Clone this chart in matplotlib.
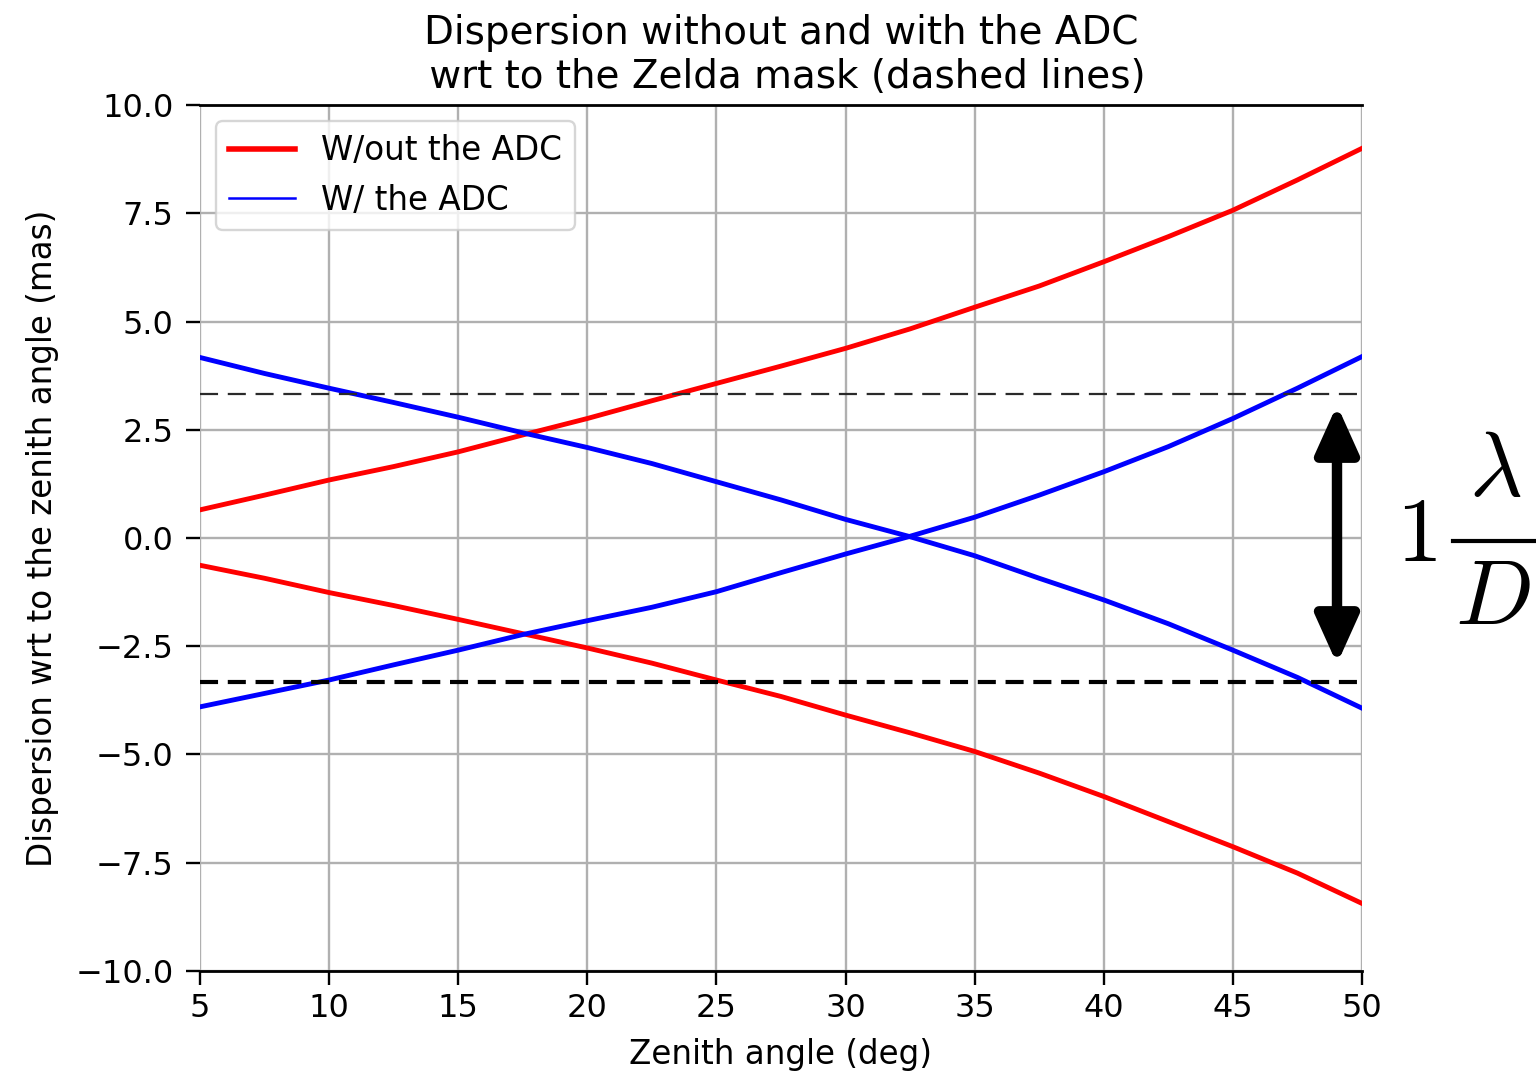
import matplotlib
matplotlib.use("Agg")
import matplotlib.pyplot as plt
from matplotlib.patches import FancyArrowPatch
from matplotlib.lines import Line2D
from matplotlib.ticker import FuncFormatter

# zenith angles (deg)
zenith = [5, 7.5, 10, 12.5, 15, 17.5, 20, 22.5, 25, 27.5,
          30, 32.5, 35, 37.5, 40, 42.5, 45, 47.5, 50]

# dispersion without the ADC, both wavelength edges (mas)
no_adc_up = [0.65, 0.99, 1.34, 1.65, 1.99, 2.38, 2.76, 3.17, 3.57, 3.97,
             4.38, 4.83, 5.33, 5.82, 6.38, 6.96, 7.57, 8.27, 9.00]
no_adc_low = [-0.63, -0.93, -1.26, -1.56, -1.88, -2.21, -2.54, -2.89, -3.28, -3.66,
              -4.09, -4.50, -4.93, -5.43, -5.97, -6.55, -7.13, -7.74, -8.44]

# dispersion with the ADC (mas)
adc_a = [4.17, 3.80, 3.46, 3.13, 2.79, 2.43, 2.09, 1.72, 1.30, 0.88,
         0.43, 0.03, -0.41, -0.93, -1.43, -1.98, -2.59, -3.22, -3.93]
adc_b = [-3.90, -3.59, -3.28, -2.93, -2.59, -2.23, -1.91, -1.60, -1.24, -0.80,
         -0.37, 0.04, 0.48, 0.99, 1.53, 2.11, 2.76, 3.46, 4.19]

# Zelda mask limits (mas)
zelda_up = 3.33
zelda_low = -3.33

plt.rcParams["lines.scale_dashes"] = False
plt.rcParams["mathtext.fontset"] = "cm"

fig = plt.figure(figsize=(15.36, 10.73), dpi=100)
ax = fig.add_axes([0.1302, 0.0951, 0.7565, 0.8070])

fs = 23.5
ax.plot(zenith, no_adc_up, color="red", lw=3.5, label="W/out the ADC")
ax.plot(zenith, no_adc_low, color="red", lw=3.5)
ax.plot(zenith, adc_a, color="blue", lw=3.5, label="W/ the ADC")
ax.plot(zenith, adc_b, color="blue", lw=3.5)

ax.axhline(zelda_up, color="#2a2a2a", lw=1.6, dashes=(13, 7))
ax.axhline(zelda_low, color="black", lw=3.0, dashes=(13, 7))

ax.set_xlim(5, 50)
ax.set_ylim(-10, 10)
ax.set_xticks(range(5, 51, 5))
ax.set_yticks([-10, -7.5, -5, -2.5, 0, 2.5, 5, 7.5, 10])
ax.yaxis.set_major_formatter(FuncFormatter(lambda v, p: f"{v:.1f}".replace("-", "\u2212")))
ax.tick_params(labelsize=23, width=1.7, length=10, pad=6)
ax.tick_params(axis="y", pad=9)
ax.grid(True, color="#b0b0b0", lw=1.7)
ax.set_axisbelow(True)
for side in ("left", "right"):
    ax.spines[side].set_visible(False)
for side in ("top", "bottom"):
    ax.spines[side].set_linewidth(2.0)

ax.set_xlabel("Zenith angle (deg)", fontsize=fs, labelpad=10)
ax.set_ylabel("Dispersion wrt to the zenith angle (mas)", fontsize=fs, labelpad=12)
ax.set_title("Dispersion without and with the ADC\n wrt to the Zelda mask (dashed lines)",
             fontsize=28, pad=12)

leg = ax.legend(loc="upper left", fontsize=fs, handlelength=2.0,
                borderaxespad=0.5, framealpha=0.8)
leg.get_frame().set_linewidth(1.7)
leg.get_lines()[0].set_linewidth(4.0)
leg.get_lines()[1].set_linewidth(1.8)

# 1 lambda/D scale bar
arrow = FancyArrowPatch((1337 / 1536, 1 - 405 / 1073), (1337 / 1536, 1 - 664 / 1073),
                        transform=fig.transFigure,
                        arrowstyle="<|-|>,head_length=0.8,head_width=0.36",
                        mutation_scale=36, lw=7.5, color="black", shrinkA=0, shrinkB=0)
fig.patches.append(arrow)

def fx(px):
    return px / 1536

def fy(py):
    return 1 - py / 1073

fig.text(fx(1416), fy(535), r"$1$", fontsize=66, ha="center", va="center")
fig.text(fx(1495), fy(470), r"$\lambda$", fontsize=66, ha="center", va="center")
fig.text(fx(1493), fy(598), r"$D$", fontsize=66, ha="center", va="center")
fig.add_artist(Line2D([fx(1453), fx(1535)], [fy(541), fy(541)], color="black", lw=3))

fig.savefig("out.png", dpi=100)
